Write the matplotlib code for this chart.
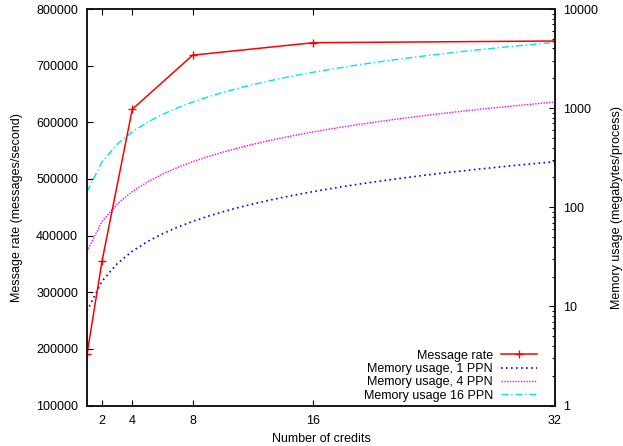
import matplotlib
matplotlib.use("Agg")
import matplotlib.pyplot as plt
from matplotlib.ticker import LogLocator, FixedLocator, NullFormatter

plt.rcParams['font.family'] = ['Liberation Sans', 'DejaVu Sans']
plt.rcParams['font.size'] = 9

# ---- data ----
rate_credits = [1, 2, 4, 8, 16, 32]
message_rate = [190500, 355500, 623000, 718500, 740500, 743500]

mem_credits = [1, 2, 3, 4, 5, 6, 7, 8, 9, 10, 11, 12, 13, 14, 15, 16,
               17, 18, 19, 20, 21, 22, 23, 24, 25, 26, 27, 28, 29, 30, 31, 32]
mem_1ppn = [9, 18, 27, 36, 45, 54, 63, 72, 81, 90, 99, 108, 117, 126, 135, 144,
            153, 162, 171, 180, 189, 198, 207, 216, 225, 234, 243, 252, 261, 270, 279, 288]
mem_4ppn = [36, 72, 108, 144, 180, 216, 252, 288, 324, 360, 396, 432, 468, 504, 540, 576,
            612, 648, 684, 720, 756, 792, 828, 864, 900, 936, 972, 1008, 1044, 1080, 1116, 1152]
mem_16ppn = [144, 288, 432, 576, 720, 864, 1008, 1152, 1296, 1440, 1584, 1728, 1872, 2016, 2160, 2304,
             2448, 2592, 2736, 2880, 3024, 3168, 3312, 3456, 3600, 3744, 3888, 4032, 4176, 4320, 4464, 4608]

x_ticks = [2, 4, 8, 16, 32]
left_ticks = [100000, 200000, 300000, 400000, 500000, 600000, 700000, 800000]
right_ticks = [1, 10, 100, 1000, 10000]

labels = ["Message rate", "Memory usage, 1 PPN", "Memory usage, 4 PPN", "Memory usage 16 PPN"]

# ---- figure ----
fig = plt.figure(figsize=(6.23, 4.46), dpi=100)
ax = fig.add_axes([87/623, 1-405.5/446, (555-87)/623, (405.5-9)/446])
ax2 = ax.twinx()

h1, = ax.plot(rate_credits, message_rate, color='#ff0000', lw=1.1, marker='+',
              markersize=6, markeredgewidth=1.0, label=labels[0])
h2, = ax2.plot(mem_credits, mem_1ppn, color='#0000ff', lw=1.2, ls=(0, (1, 2)), label=labels[1])
h3, = ax2.plot(mem_credits, mem_4ppn, color='#ff00ff', lw=1.0, ls=(0, (1, 1)), label=labels[2])
h4, = ax2.plot(mem_credits, mem_16ppn, color='#00e5ee', lw=1.0, ls=(0, (5, 2, 1, 2)), label=labels[3])

ax.set_zorder(ax2.get_zorder() + 1)
ax.patch.set_visible(False)

ax.set_xlim(1, 32)
ax.set_xticks(x_ticks)
ax.set_ylim(100000, 800000)
ax.set_yticks(left_ticks)
ax.set_yticklabels([str(v) for v in left_ticks])

ax2.set_yscale('log')
ax2.set_ylim(1, 10000)
ax2.yaxis.set_major_locator(FixedLocator(right_ticks))
ax2.set_yticklabels([str(v) for v in right_ticks])
ax2.yaxis.set_minor_locator(LogLocator(base=10, subs=range(2, 10)))
ax2.yaxis.set_minor_formatter(NullFormatter())

ax.tick_params(axis='x', which='major', direction='in', length=4.3, width=0.8,
               top=True, pad=6.5)
ax.tick_params(axis='y', which='major', direction='in', length=4.3, width=0.8,
               right=False, pad=6.5)
ax2.tick_params(axis='y', which='major', direction='in', length=4.3, width=0.8, pad=6)
ax2.tick_params(axis='y', which='minor', direction='in', length=2.2, width=0.8)

for a in (ax, ax2):
    for s in a.spines.values():
        s.set_linewidth(1.1)
        s.set_color('#111111')

ax.set_xlabel("Number of credits")
ax.set_ylabel("Message rate (messages/second)")
ax2.set_ylabel("Memory usage (megabytes/process)")
ax.xaxis.set_label_coords(0.5, -0.069)
ax.yaxis.set_label_coords(-0.136, 0.5)
ax2.yaxis.set_label_coords(1.12, 0.5)

leg = ax.legend([h1, h2, h3, h4], labels, loc='lower right',
                bbox_to_anchor=(0.962, 0.010), frameon=False, markerfirst=False,
                borderpad=0, handlelength=2.9, handletextpad=0.65, labelspacing=0.1,
                borderaxespad=0)

fig.savefig("out.png", dpi=100)
